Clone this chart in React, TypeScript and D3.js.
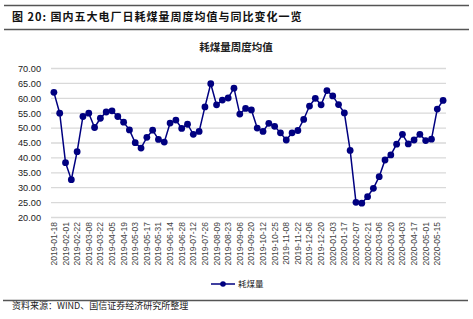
import React from "react";
import * as d3 from "d3";

const dates: string[] = [
  "2019-01-18","2019-01-25","2019-02-01","2019-02-15","2019-02-22","2019-03-01","2019-03-08","2019-03-15",
  "2019-03-22","2019-03-29","2019-04-05","2019-04-12","2019-04-19","2019-04-26","2019-05-03","2019-05-10",
  "2019-05-17","2019-05-24","2019-05-31","2019-06-06","2019-06-14","2019-06-21","2019-06-28","2019-07-05",
  "2019-07-12","2019-07-19","2019-07-26","2019-08-02","2019-08-09","2019-08-16","2019-08-23","2019-08-30",
  "2019-09-06","2019-09-13","2019-09-20","2019-09-27","2019-10-12","2019-10-18","2019-10-25","2019-11-01",
  "2019-11-08","2019-11-15","2019-11-22","2019-11-29","2019-12-06","2019-12-13","2019-12-20","2019-12-27",
  "2020-01-03","2020-01-10","2020-01-17","2020-01-23","2020-02-07","2020-02-14","2020-02-21","2020-02-28",
  "2020-03-06","2020-03-13","2020-03-20","2020-03-27","2020-04-03","2020-04-10","2020-04-17","2020-04-24",
  "2020-05-01","2020-05-08","2020-05-15","2020-05-22",
];

const coal: number[] = [
  62.0, 55.0, 38.4, 32.7, 42.1, 53.9, 55.0, 50.2, 53.3, 55.4, 55.8, 53.9, 52.0, 49.4, 45.1, 43.3,
  46.9, 49.3, 46.2, 45.3, 51.7, 52.7, 49.9, 51.3, 47.9, 48.9, 57.1, 64.9, 57.8, 59.4, 60.1, 63.4,
  54.7, 56.6, 56.1, 50.0, 48.9, 51.6, 50.6, 48.4, 46.0, 48.4, 49.2, 52.9, 57.4, 60.0, 57.8, 62.6,
  60.8, 57.9, 55.1, 42.5, 25.1, 24.8, 27.0, 29.8, 33.7, 39.3, 41.0, 44.6, 47.9, 44.7, 46.0, 47.9,
  45.8, 46.3, 56.4, 59.3,
];

const yTicks: number[] = [20, 25, 30, 35, 40, 45, 50, 55, 60, 65, 70];

const titleText = "图 20: 国内五大电厂日耗煤量周度均值与同比变化一览";
const chartTitle = "耗煤量周度均值";
const seriesName = "耗煤量";
const sourceText = "资料来源：WIND、国信证券经济研究所整理";

const W = 473;
const H = 319;
const LINE = "#000080";
const CJK = "'Noto Sans CJK SC', 'Liberation Sans', sans-serif";
const LAT = "'Liberation Sans', Arial, sans-serif";

export default function App() {
  const x = d3.scaleBand<string>().domain(dates).range([51, 446]).paddingInner(0).paddingOuter(0);
  const y = d3.scaleLinear().domain([20, 70]).range([217.5, 68.5]);
  const cx = (d: string) => (x(d) ?? 0) + x.bandwidth() / 2;
  const line = d3
    .line<number>()
    .x((_, i) => cx(dates[i]))
    .y((v) => y(v));

  return (
    <svg
      width={W}
      height={H}
      style={{ position: "absolute", left: 0, top: 0, display: "block", background: "#fff" }}
    >
      <rect x={0} y={0} width={W} height={H} fill="#fff" />
      {/* header rules */}
      <line x1={4} x2={469} y1={5.5} y2={5.5} stroke="#555" strokeWidth={1.6} />
      <line x1={4} x2={469} y1={29.5} y2={29.5} stroke="#555" strokeWidth={1.6} />
      <text x={12} y={20.5} fontFamily={CJK} fontSize={11} fontWeight={700} letterSpacing={1} fill="#111">
        {titleText}
      </text>
      <text x={236} y={51} textAnchor="middle" fontFamily={CJK} fontSize={10.5} fontWeight={700} fill="#222">
        {chartTitle}
      </text>

      {/* grid */}
      {yTicks.map((t) => (
        <g key={t}>
          <line x1={51} x2={446} y1={y(t)} y2={y(t)} stroke="#d9d9d9" strokeWidth={1.3} />
          <text x={41} y={y(t) + 3.3} textAnchor="end" fontFamily={LAT} fontSize={9.2} fill="#222">
            {t.toFixed(2)}
          </text>
        </g>
      ))}

      {/* x labels */}
      {dates.map((d, i) =>
        i % 2 === 0 ? (
          <text
            key={d}
            transform={`translate(${cx(d) + 3},${222}) rotate(-90)`}
            textAnchor="end"
            fontFamily={LAT}
            fontSize={8.5}
            fill="#444"
          >
            {d}
          </text>
        ) : null
      )}

      {/* series */}
      <path d={line(coal) ?? ""} fill="none" stroke={LINE} strokeWidth={1.5} />
      {coal.map((v, i) => (
        <circle key={i} cx={cx(dates[i])} cy={y(v)} r={3.4} fill={LINE} />
      ))}

      {/* legend */}
      <line x1={211} x2={235} y1={284} y2={284} stroke={LINE} strokeWidth={1.5} />
      <circle cx={223} cy={284} r={2.8} fill={LINE} />
      <text x={238} y={287} fontFamily={CJK} fontSize={8.5} fill="#222">
        {seriesName}
      </text>

      {/* footer */}
      <line x1={3} x2={468} y1={300.5} y2={300.5} stroke="#555" strokeWidth={1.6} />
      <text x={12} y={309} fontFamily={CJK} fontSize={9} fill="#222">
        {sourceText}
      </text>
    </svg>
  );
}
